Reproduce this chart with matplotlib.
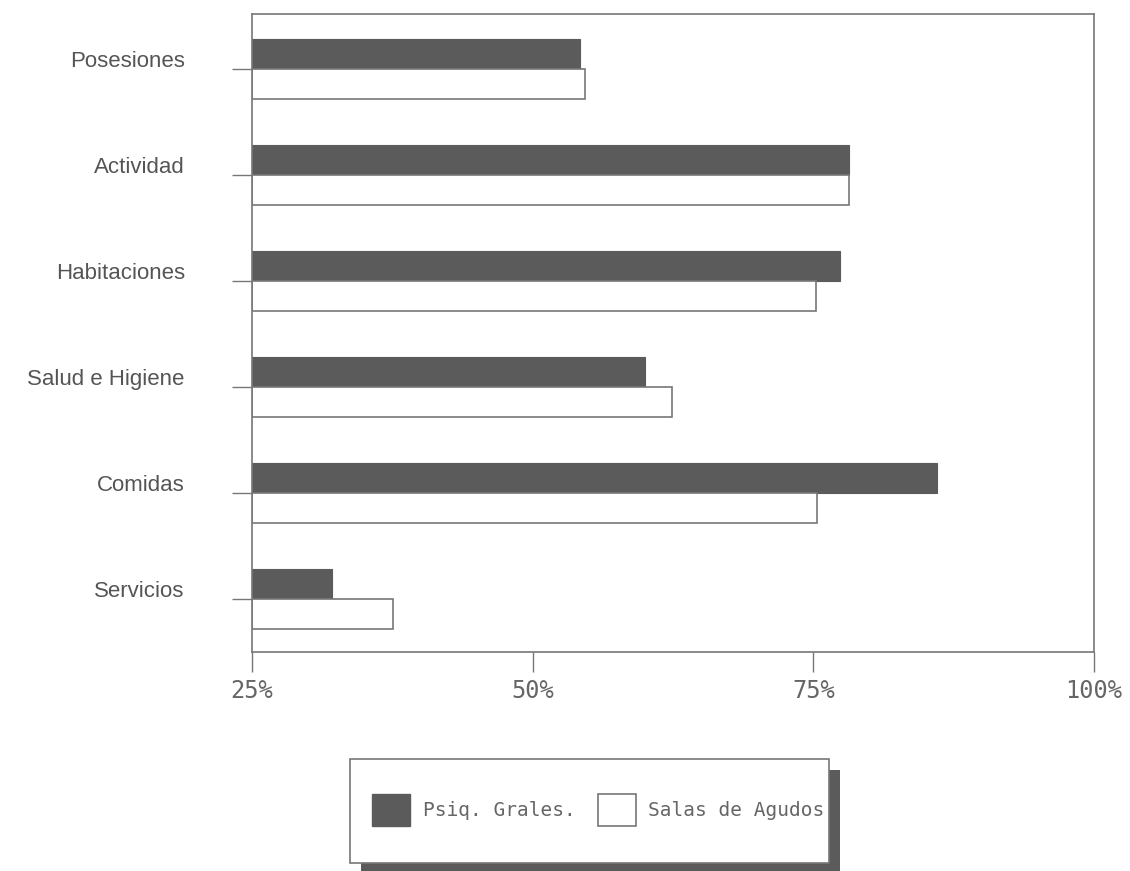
import matplotlib.pyplot as plt
import matplotlib.transforms as mtransforms
from matplotlib.patches import Rectangle, Patch

categories = ["Posesiones", "Actividad", "Habitaciones", "Salud e Higiene", "Comidas", "Servicios"]
psiq_grales = [54.2, 78.2, 77.4, 60.0, 86.0, 32.1]
salas_agudos = [54.7, 78.2, 75.2, 62.4, 75.3, 37.6]
x_ticks = [25, 50, 75, 100]
x_labels = ["25%", "50%", "75%", "100%"]

DARK = "#5b5b5b"
LINE = "#777777"
TEXT = "#555555"
MONO = "DejaVu Sans Mono"

W, H = 1130, 871
fig = plt.figure(figsize=(W / 100, H / 100), dpi=100)
ax = fig.add_axes([252 / W, 1 - 652 / H, (1094 - 252) / W, (652 - 14) / H])

ys = list(range(len(categories)))
bh = 0.285
ax.barh([y - bh / 2 for y in ys], [v - 25 for v in psiq_grales], left=25, height=bh,
        color=DARK, edgecolor=DARK, linewidth=0.8)
ax.barh([y + bh / 2 for y in ys], [v - 25 for v in salas_agudos], left=25, height=bh,
        color="white", edgecolor=LINE, linewidth=1.2)

ax.set_xlim(25, 100)
ax.set_ylim(len(categories) - 1 + 0.5, -0.52)

ax.set_yticks(ys)
ax.set_yticklabels(categories, fontsize=16, color=TEXT, fontfamily="Liberation Sans")
ax.set_xticks(x_ticks)
ax.set_xticklabels(x_labels, fontsize=17, color="#666666", fontfamily=MONO)

ax.tick_params(axis="y", direction="out", length=14.4, width=1.0, color=LINE, pad=34)
ax.tick_params(axis="x", direction="out", length=14.4, width=1.0, color=LINE, pad=5)

# labels sit a bit above their tick marks
shift = mtransforms.ScaledTranslation(0, 7 / 72, fig.dpi_scale_trans)
for lab in ax.get_yticklabels():
    lab.set_transform(lab.get_transform() + shift)

for sp in ax.spines.values():
    sp.set_color(LINE)
    sp.set_linewidth(1.2)

# legend box with drop shadow
fig.add_artist(Rectangle((361 / W, -3 / H), (829 - 350) / W, (863 - 759) / H,
                         transform=fig.transFigure, facecolor=DARK, edgecolor="none"))
fig.add_artist(Rectangle((350 / W, (871 - 863) / H), (829 - 350) / W, (863 - 759) / H,
                         transform=fig.transFigure, facecolor="white", edgecolor=LINE, linewidth=1.2))

handles = [Patch(facecolor=DARK, edgecolor=DARK, label="Psiq. Grales."),
           Patch(facecolor="white", edgecolor=LINE, linewidth=1.2, label="Salas de Agudos")]
leg = fig.legend(handles=handles, loc="center left", bbox_to_anchor=(372 / W, (871 - 810) / H),
                 ncol=2, frameon=False, borderpad=0, borderaxespad=0,
                 handlelength=1.95, handleheight=2.08, handletextpad=0.65, columnspacing=1.15,
                 prop={"family": MONO, "size": 14})
for t in leg.get_texts():
    t.set_color("#666666")

fig.savefig("out.png", dpi=100)
